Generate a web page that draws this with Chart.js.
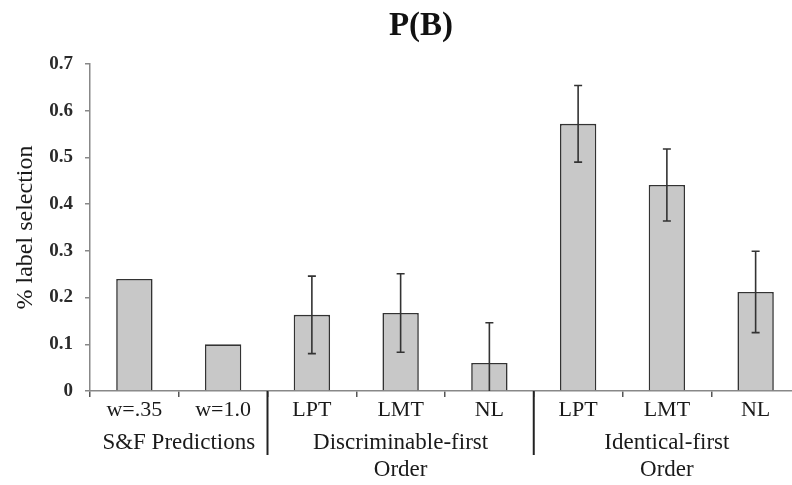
<!DOCTYPE html>
<html>
<head>
<meta charset="utf-8">
<script src="https://cdn.jsdelivr.net/npm/chart.js@4.4.0/dist/chart.umd.min.js"></script>
<style>
  body { margin: 0; overflow: hidden; background: #fff; }
  #wrap { width: 800px; height: 485px; }
</style>
</head>
<body>
<div id="wrap"><canvas id="barChart" width="800" height="485"></canvas></div>
<script>
const categories = ["w=.35", "w=1.0", "LPT", "LMT", "NL", "LPT", "LMT", "NL"];
const values = [0.24, 0.10, 0.163, 0.167, 0.06, 0.572, 0.441, 0.212];
const errors = [null, null, 0.083, 0.084, 0.086, 0.082, 0.077, 0.087];
const groupLabels = [["S&F Predictions"], ["Discriminable-first", "Order"], ["Identical-first", "Order"]];
const groupStart = [0, 2, 5];
const groupEnd = [1, 4, 7];
const yMax = 0.7;
const yStep = 0.1;

const serif = "'Liberation Serif', 'DejaVu Serif', serif";

// error bars + group labels + title
const extras = {
  id: "extras",
  afterDatasetsDraw(chart) {
    const ctx = chart.ctx;
    const y = chart.scales.y;
    const meta = chart.getDatasetMeta(0);
    ctx.save();
    ctx.strokeStyle = "#333";
    ctx.lineWidth = 1.6;
    meta.data.forEach((bar, i) => {
      if (errors[i] == null) return;
      const lo = values[i] - errors[i];
      const top = y.getPixelForValue(values[i] + errors[i]);
      const bot = y.getPixelForValue(Math.max(lo, 0));
      ctx.beginPath();
      ctx.moveTo(bar.x, top);
      ctx.lineTo(bar.x, bot);
      ctx.moveTo(bar.x - 4, top);
      ctx.lineTo(bar.x + 4, top);
      if (lo > 0) {
        ctx.moveTo(bar.x - 4, bot);
        ctx.lineTo(bar.x + 4, bot);
      }
      ctx.stroke();
    });
    ctx.restore();
  },
  afterDraw(chart) {
    const ctx = chart.ctx;
    const x = chart.scales.x;
    const area = chart.chartArea;
    ctx.save();
    // group separators
    ctx.strokeStyle = "#222";
    ctx.lineWidth = 2;
    for (let g = 1; g < groupStart.length; g++) {
      const sx = (x.getPixelForValue(groupStart[g] - 1) + x.getPixelForValue(groupStart[g])) / 2;
      ctx.beginPath();
      ctx.moveTo(sx, area.bottom);
      ctx.lineTo(sx, area.bottom + 64);
      ctx.stroke();
    }
    // group labels
    ctx.fillStyle = "#1a1a1a";
    ctx.font = "23px " + serif;
    ctx.textAlign = "center";
    ctx.textBaseline = "middle";
    groupLabels.forEach((lines, g) => {
      const cx = (x.getPixelForValue(groupStart[g]) + x.getPixelForValue(groupEnd[g])) / 2;
      lines.forEach((t, k) => ctx.fillText(t, cx, area.bottom + 52 + k * 27));
    });
    // title
    ctx.font = "bold 33px " + serif;
    ctx.fillStyle = "#111";
    ctx.fillText("P(B)", 421, 26);
    ctx.restore();
  }
};

new Chart(document.getElementById("barChart"), {
  type: "bar",
  data: {
    labels: categories,
    datasets: [
      {
        data: values,
        backgroundColor: "#c8c8c8",
        borderColor: "#333",
        borderWidth: 1.6,
        barPercentage: 0.41,
        categoryPercentage: 1.0,
      },
    ],
  },
  options: {
    responsive: false,
    animation: false,
    layout: { padding: { top: 64, right: 0, bottom: 0, left: 0 } },
    plugins: {
      legend: { display: false },
      title: { display: false },
      tooltip: { enabled: false },
    },
    scales: {
      x: {
        afterFit: (s) => { s.height = 94; },
        grid: { drawOnChartArea: false, offset: true, tickLength: 6, color: "#555", lineWidth: 1.5 },
        border: { color: "#888", width: 1.5 },
        ticks: { color: "#1a1a1a", padding: 0, font: { family: serif, size: 22 }, maxRotation: 0 },
      },
      y: {
        min: 0,
        max: yMax,
        afterFit: (s) => { s.width = 90; },
        grid: { drawOnChartArea: false, tickLength: 5, color: "#888", lineWidth: 1.5 },
        border: { color: "#888", width: 1.5 },
        ticks: {
          stepSize: yStep,
          padding: 12,
          color: "#2a2a2a",
          font: { family: serif, size: 19, weight: "bold" },
        },
        title: {
          display: true,
          text: "% label selection",
          color: "#1a1a1a",
          padding: { top: 11, bottom: 0 },
          font: { family: serif, size: 24 },
        },
      },
    },
  },
  plugins: [extras],
});
</script>
</body>
</html>
